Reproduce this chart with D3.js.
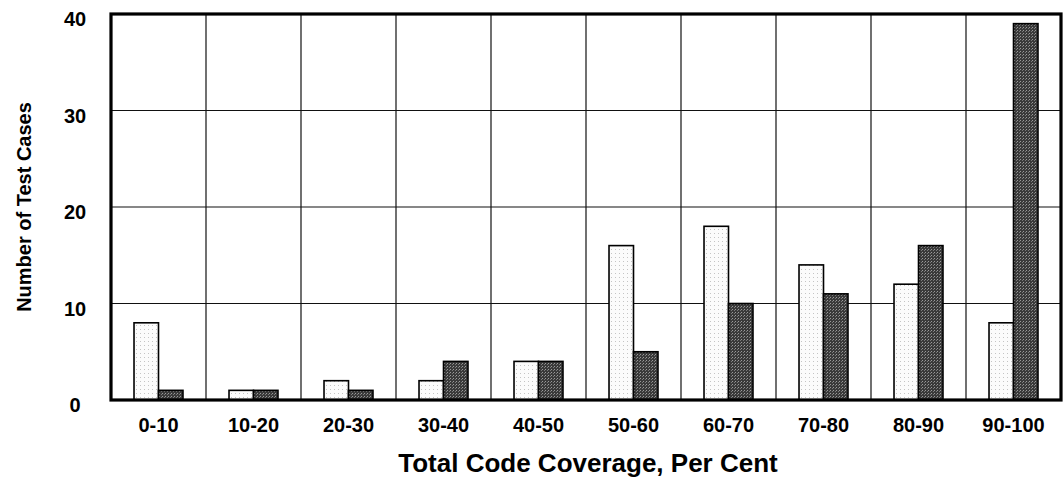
<!DOCTYPE html>
<html lang="en">
<head>
	<meta charset="utf-8">
	<title>Total code coverage per cent</title>
	<script type="text/javascript" src="https://d3js.org/d3.v7.min.js"></script>
	<style type="text/css">
		body { margin: 0; background: #fff; }
		text { font-family: "Liberation Sans", Arial, Helvetica, sans-serif; font-weight: bold; fill: #000; }
	</style>
</head>
<body>
	<script type="text/javascript">
		//Chart data
		var categories = ["0-10", "10-20", "20-30", "30-40", "40-50", "50-60", "60-70", "70-80", "80-90", "90-100"];
		var lightValues = [8, 1, 2, 2, 4, 16, 18, 14, 12, 8];
		var darkValues = [1, 1, 1, 4, 4, 5, 10, 11, 16, 39];
		var yTicks = [0, 10, 20, 30, 40];

		var w = 1063;
		var h = 479;
		//plot box edges (note: "top" is taken by window.top, so prefix them)
		var plotLeft = 111, plotRight = 1061, plotTop = 14, plotBottom = 400;

		var svg = d3.select("body")
			.append("svg")
			.attr("width", w)
			.attr("height", h);

		//stippled fills, like the printed original
		var defs = svg.append("defs");
		var lightPat = defs.append("pattern")
			.attr("id", "lightFill")
			.attr("width", 4).attr("height", 4)
			.attr("patternUnits", "userSpaceOnUse");
		lightPat.append("rect").attr("width", 4).attr("height", 4).attr("fill", "#fbfbfb");
		lightPat.append("rect").attr("x", 1).attr("y", 1).attr("width", 1).attr("height", 1).attr("fill", "#c4c4c4");

		var darkPat = defs.append("pattern")
			.attr("id", "darkFill")
			.attr("width", 3).attr("height", 3)
			.attr("patternUnits", "userSpaceOnUse");
		darkPat.append("rect").attr("width", 3).attr("height", 3).attr("fill", "#3a3a3a");
		darkPat.append("rect").attr("x", 0).attr("y", 0).attr("width", 1).attr("height", 1).attr("fill", "#9a9a9a");
		darkPat.append("rect").attr("x", 2).attr("y", 1).attr("width", 1).attr("height", 1).attr("fill", "#7a7a7a");

		var x = d3.scaleBand()
			.domain(categories)
			.range([plotLeft, plotRight])
			.padding(0);

		//two bars inside each category
		var xSub = d3.scaleBand()
			.domain(["light", "dark"])
			.range([0, x.bandwidth()])
			.paddingInner(0)
			.paddingOuter(0.94);

		var y = d3.scaleLinear()
			.domain([0, 40])
			.range([plotBottom, plotTop]);

		//horizontal grid lines
		svg.append("g")
			.selectAll("line")
			.data(yTicks.slice(1, 4))
			.enter()
			.append("line")
			.attr("x1", plotLeft).attr("x2", plotRight)
			.attr("y1", function(d) { return y(d); })
			.attr("y2", function(d) { return y(d); })
			.attr("stroke", "#111")
			.attr("stroke-width", 1.2);

		//vertical grid lines at category borders
		svg.append("g")
			.selectAll("line")
			.data(categories.slice(1))
			.enter()
			.append("line")
			.attr("x1", function(d) { return x(d); })
			.attr("x2", function(d) { return x(d); })
			.attr("y1", plotTop).attr("y2", plotBottom)
			.attr("stroke", "#111")
			.attr("stroke-width", 1.2);

		var rows = categories.map(function(c, i) {
			return { cat: c, light: lightValues[i], dark: darkValues[i] };
		});

		var groups = svg.append("g")
			.selectAll("g")
			.data(rows)
			.enter()
			.append("g")
			.attr("transform", function(d) { return "translate(" + x(d.cat) + ",0)"; });

		groups.selectAll("rect")
			.data(function(d) {
				return [{ key: "light", v: d.light }, { key: "dark", v: d.dark }];
			})
			.enter()
			.append("rect")
			.attr("x", function(d) { return xSub(d.key); })
			.attr("y", function(d) { return y(d.v); })
			.attr("width", xSub.bandwidth())
			.attr("height", function(d) { return y(0) - y(d.v); })
			.attr("fill", function(d) { return d.key === "light" ? "url(#lightFill)" : "url(#darkFill)"; })
			.attr("stroke", "#000")
			.attr("stroke-width", 1.6);

		//heavy frame round the plot
		svg.append("rect")
			.attr("x", plotLeft).attr("y", plotTop)
			.attr("width", plotRight - plotLeft)
			.attr("height", plotBottom - plotTop)
			.attr("fill", "none")
			.attr("stroke", "#000")
			.attr("stroke-width", 3.2);

		//y tick labels
		svg.append("g")
			.selectAll("text")
			.data(yTicks)
			.enter()
			.append("text")
			.text(function(d) { return d; })
			.attr("x", 75)
			.attr("y", function(d) { return y(d) + 12; })
			.attr("text-anchor", "middle")
			.attr("font-size", "20px");

		//x tick labels
		svg.append("g")
			.selectAll("text")
			.data(categories)
			.enter()
			.append("text")
			.text(function(d) { return d; })
			.attr("x", function(d) { return x(d) + x.bandwidth() / 2; })
			.attr("y", 432)
			.attr("text-anchor", "middle")
			.attr("font-size", "20px");

		//axis titles
		svg.append("text")
			.text("Total Code Coverage, Per Cent")
			.attr("x", 588)
			.attr("y", 472)
			.attr("text-anchor", "middle")
			.attr("font-size", "26px");

		svg.append("text")
			.text("Number of Test Cases")
			.attr("transform", "translate(31,207) rotate(-90)")
			.attr("text-anchor", "middle")
			.attr("font-size", "20px");
	</script>
</body>
</html>
